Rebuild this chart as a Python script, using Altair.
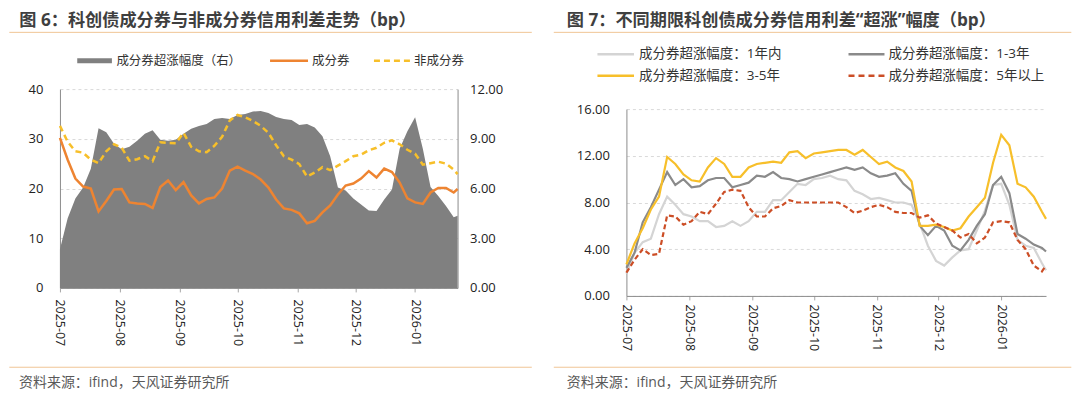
import altair as alt
import pandas as pd

FONT = "Open Sans, Noto Sans CJK SC"

# ---------------- data ----------------
dates = [
    "2025-07-01", "2025-07-05", "2025-07-09", "2025-07-13", "2025-07-17", "2025-07-21",
    "2025-07-25", "2025-07-29", "2025-08-02", "2025-08-06", "2025-08-10", "2025-08-14",
    "2025-08-18", "2025-08-22", "2025-08-26", "2025-08-30", "2025-09-03", "2025-09-07",
    "2025-09-11", "2025-09-15", "2025-09-19", "2025-09-23", "2025-09-27", "2025-10-01",
    "2025-10-05", "2025-10-09", "2025-10-13", "2025-10-17", "2025-10-21", "2025-10-25",
    "2025-10-29", "2025-11-02", "2025-11-06", "2025-11-10", "2025-11-14", "2025-11-18",
    "2025-11-22", "2025-11-26", "2025-11-30", "2025-12-04", "2025-12-08", "2025-12-12",
    "2025-12-16", "2025-12-20", "2025-12-24", "2025-12-28", "2026-01-01", "2026-01-05",
    "2026-01-09", "2026-01-13", "2026-01-17", "2026-01-21", "2026-01-23",
]

# Figure 6
surge_right = [2.34, 4.20, 5.40, 6.06, 7.20, 9.63, 9.39, 8.70, 8.37, 8.52, 8.88, 9.30, 9.51,
               8.94, 8.88, 8.94, 9.30, 9.60, 9.78, 9.90, 10.20, 10.26, 10.20, 10.44, 10.50,
               10.65, 10.68, 10.56, 10.32, 10.20, 10.14, 9.84, 9.90, 9.69, 9.15, 7.95, 6.06,
               5.88, 5.40, 5.04, 4.68, 4.65, 5.34, 5.94, 8.40, 9.45, 10.30, 8.40, 6.09, 5.55,
               4.95, 4.26, 4.35]
constituent = [30.2, 25.8, 22.0, 20.4, 20.0, 15.4, 17.5, 19.8, 19.9, 17.2, 17.0, 16.9, 16.1,
               20.3, 21.6, 19.7, 21.3, 18.6, 17.0, 17.9, 18.2, 20.0, 23.6, 24.4, 23.6, 22.9,
               21.8, 20.2, 17.8, 16.0, 15.7, 15.0, 13.0, 13.5, 15.2, 16.6, 18.8, 20.6, 21.0,
               22.0, 23.5, 22.2, 24.0, 23.3, 21.2, 18.0, 17.2, 16.9, 19.2, 20.1, 20.1, 19.2, 19.9]
non_constituent = [32.6, 29.4, 27.5, 27.2, 25.8, 25.1, 27.5, 28.9, 28.2, 25.6, 25.9, 26.5, 25.5,
                   29.3, 29.2, 29.1, 31.2, 28.4, 27.5, 27.3, 28.6, 30.4, 33.7, 34.8, 34.3, 33.6,
                   32.6, 31.2, 28.7, 26.5, 25.8, 24.9, 22.4, 23.2, 24.3, 23.7, 24.6, 25.5, 26.5,
                   26.8, 27.7, 28.2, 29.2, 29.7, 28.9, 27.8, 27.0, 24.8, 25.1, 25.4, 25.0, 23.8, 22.9]

# Figure 7
surge_1y = [1.9, 3.7, 4.6, 4.9, 7.0, 8.5, 7.8, 7.0, 6.8, 6.4, 6.4, 5.9, 6.0, 6.4, 6.0, 6.4,
            7.2, 7.2, 8.2, 8.2, 8.9, 9.6, 9.5, 10.0, 10.1, 10.3, 10.0, 9.9, 9.0, 8.7, 8.3, 8.4,
            8.2, 8.0, 8.0, 7.8, 6.2, 4.3, 3.0, 2.6, 3.3, 3.9, 4.0, 5.6, 7.3, 9.5, 9.6, 7.8, 4.8,
            4.3, 4.1, 2.8, 2.2]
surge_1_3y = [2.4, 3.7, 6.3, 7.6, 9.1, 10.6, 9.5, 10.0, 9.3, 9.4, 9.9, 10.1, 10.1, 9.3, 9.5,
              9.7, 10.3, 10.2, 10.6, 10.1, 10.0, 9.8, 10.0, 10.2, 10.4, 10.6, 10.8, 11.0, 10.8,
              11.0, 10.5, 10.2, 10.3, 10.5, 9.6, 9.0, 6.0, 5.2, 6.0, 5.6, 4.3, 3.9, 4.8, 6.0,
              7.0, 9.5, 10.2, 8.8, 5.3, 4.9, 4.4, 4.1, 3.8]
surge_3_5y = [2.7, 4.5, 5.8, 7.4, 8.5, 11.9, 11.3, 10.4, 9.9, 9.8, 11.0, 11.8, 11.3, 10.2, 10.2,
              11.0, 11.3, 11.4, 11.5, 11.4, 12.3, 12.4, 11.8, 12.2, 12.3, 12.4, 12.5, 12.5, 12.1,
              12.5, 11.9, 11.3, 11.5, 11.0, 10.7, 9.8, 6.0, 6.0, 6.1, 5.9, 5.6, 5.8, 6.8, 7.6,
              8.4, 11.4, 13.8, 12.9, 9.6, 9.3, 8.5, 7.2, 6.6]
surge_5y_plus = [2.0, 3.1, 4.0, 3.5, 3.6, 6.9, 6.8, 6.1, 6.4, 7.2, 7.0, 7.9, 8.9, 9.1, 9.0, 7.6,
                 6.8, 6.8, 7.5, 7.7, 8.2, 8.0, 8.0, 8.0, 8.0, 8.0, 8.0, 7.6, 7.1, 7.3, 7.6, 7.8,
                 7.6, 7.2, 7.1, 7.1, 6.7, 6.9, 6.2, 5.9, 5.6, 5.0, 5.3, 4.5, 5.0, 6.3, 6.4, 6.3,
                 4.8, 4.0, 2.6, 2.1, 2.6]

month_ticks = [(2025, 7), (2025, 8), (2025, 9), (2025, 10), (2025, 11), (2025, 12), (2026, 1)]

left_title = "图 6：科创债成分券与非成分券信用利差走势（bp）"
right_title = "图 7：不同期限科创债成分券信用利差“超涨”幅度（bp）"
source_text = "资料来源：ifind，天风证券研究所"
left_legend = ["成分券超涨幅度（右）", "成分券", "非成分券"]
right_legend = ["成分券超涨幅度：1年内", "成分券超涨幅度：1-3年", "成分券超涨幅度：3-5年", "成分券超涨幅度：5年以上"]

# ---------------- styles ----------------
C_AREA = "#808080"
C_ORANGE = "#EE8431"
C_YELLOW = "#F7BF2A"
C_LIGHT = "#D4D4D4"
C_DARK = "#8A8A8A"
C_RED = "#CC4E26"
C_RULE = "#F0C595"
C_TITLE = "#3F3F3F"
C_AXIS = "#8C8C8C"
C_LABEL = "#222222"

LW, LH = 398, 199
RW, RH = 420, 207
SPACING = 169

ONE = alt.Data(values=[{"k": 1}])


def txt(s, x, y, size, color, weight="normal"):
    return alt.Chart(ONE).mark_text(
        text=s, font=FONT, fontSize=size, color=color, fontWeight=weight,
        align="left", baseline="middle"
    ).encode(x=alt.value(x), y=alt.value(y))


def hrule(x1, x2, y, color, width, dash=None):
    kw = dict(color=color, strokeWidth=width)
    if dash:
        kw["strokeDash"] = dash
    return alt.Chart(ONE).mark_rule(**kw).encode(
        x=alt.value(x1), x2=alt.value(x2), y=alt.value(y)
    )


def x_enc(pad):
    return alt.X(
        "date:T",
        scale=alt.Scale(type="utc",
                        domain=[alt.DateTime(year=2025, month=7, date=1, utc=True),
                                alt.DateTime(year=2026, month=1, date=23, utc=True)]),
        axis=alt.Axis(
            values=[alt.DateTime(year=y, month=m, date=1, utc=True) for y, m in month_ticks],
            format="%Y-%m", labelAngle=90, labelAlign="left", labelBaseline="middle",
            labelOverlap=False, grid=False, domainColor=C_AXIS, tickColor="#A6A6A6",
            tickSize=4, labelPadding=pad, labelFont=FONT, labelFontSize=12.5,
            labelColor=C_LABEL, title=None,
        ),
        title=None,
    )


# ---------------- Figure 6 ----------------
df6 = pd.DataFrame({"date": dates, "surge": surge_right, "cons": constituent,
                    "noncons": non_constituent})

area = alt.Chart(df6).mark_area(color=C_AREA, opacity=1).encode(
    x=x_enc(7),
    y=alt.Y("surge:Q", scale=alt.Scale(domain=[0, 12], nice=False),
            axis=alt.Axis(orient="right", values=[0, 3, 6, 9, 12], format=".2f", grid=False,
                          ticks=False, domainColor=C_AXIS, labelPadding=12, labelFont=FONT,
                          labelFontSize=13, labelColor=C_LABEL, title=None)),
)

y_left = alt.Y("value:Q", scale=alt.Scale(domain=[0, 40], nice=False),
               axis=alt.Axis(orient="left", values=[0, 10, 20, 30, 40], grid=True,
                             gridDash=[3, 3], gridColor="#D9D9D9", ticks=False,
                             domainColor=C_AXIS, labelPadding=17, labelFont=FONT,
                             labelFontSize=13, labelColor=C_LABEL, title=None))

cons_line = alt.Chart(df6).transform_calculate(value="datum.cons").mark_line(
    color=C_ORANGE, strokeWidth=2.5).encode(x=x_enc(7), y=y_left)
noncons_line = alt.Chart(df6).transform_calculate(value="datum.noncons").mark_line(
    color=C_YELLOW, strokeWidth=2.5, strokeDash=[6, 4]).encode(x=x_enc(7), y=y_left)

lx0 = -50.7
TY = -68.5
left_decos = [
    hrule(lx0, 472.3, -80.3, "#FFFFFF", 1),
    txt(left_title, -40.7, TY, 17.2, C_TITLE, "bold"),
    hrule(lx0, 472.3, -56.8, C_RULE, 1),
    hrule(17.3, 52.0, -28.3, C_AREA, 5),
    txt(left_legend[0], 56.5, -28.3, 12.5, "#333333"),
    hrule(210.3, 248.3, -28.3, C_ORANGE, 2.5),
    txt(left_legend[1], 252.3, -28.3, 12.5, "#333333"),
    hrule(314.3, 351.3, -28.3, C_YELLOW, 2.5, [6, 4]),
    txt(left_legend[2], 354.5, -28.3, 12.5, "#333333"),
    hrule(lx0, 472.3, 278.4, C_RULE, 1),
    txt(source_text, -41.0, 294.5, 14, "#595959"),
]

left = alt.layer(
    area, alt.layer(cons_line, noncons_line), *left_decos
).resolve_scale(y="independent").properties(width=LW, height=LH)

# ---------------- Figure 7 ----------------
df7 = pd.DataFrame({"date": dates, "s1": surge_1y, "s2": surge_1_3y, "s3": surge_3_5y,
                    "s4": surge_5y_plus})

y_right = alt.Y("value:Q", scale=alt.Scale(domain=[0, 16], nice=False, range=[RH, 20]),
                axis=alt.Axis(values=[0, 4, 8, 12, 16], format=".2f", grid=True,
                              gridDash=[3, 3], gridColor="#D9D9D9", ticks=False,
                              domainColor=C_AXIS, labelPadding=17, labelFont=FONT,
                              labelFontSize=13, labelColor=C_LABEL, title=None))


def rline(field, color, dash=None):
    kw = dict(color=color, strokeWidth=2.2)
    if dash:
        kw["strokeDash"] = dash
    return alt.Chart(df7).transform_calculate(value=f"datum.{field}").mark_line(**kw).encode(
        x=x_enc(4), y=y_right)


rx0 = -72.7
rx1 = 445.3
right_decos = [
    txt(right_title, -59.7, TY, 17.2, C_TITLE, "bold"),
    hrule(rx0, rx1, -56.8, C_RULE, 1),
    hrule(-29.0, 7.6, -35.0, C_LIGHT, 2.5),
    txt(right_legend[0], 12.6, -35.0, 13.5, "#333333"),
    hrule(222.3, 258.3, -35.0, C_DARK, 2.5),
    txt(right_legend[1], 262.3, -35.0, 13.5, "#333333"),
    hrule(-29.0, 7.6, -13.3, C_YELLOW, 2.5),
    txt(right_legend[2], 12.6, -13.3, 13.5, "#333333"),
    hrule(222.3, 258.3, -13.3, C_RED, 2.5, [6, 4]),
    txt(right_legend[3], 262.3, -13.3, 13.5, "#333333"),
    hrule(rx0, rx1, 278.4, C_RULE, 1),
    txt(source_text, -59.7, 294.5, 14, "#595959"),
]

right = alt.layer(
    rline("s1", C_LIGHT), rline("s2", C_DARK), rline("s3", C_YELLOW),
    rline("s4", C_RED, [5, 3]), *right_decos
).properties(width=RW, height=RH)

chart = alt.hconcat(left, right, spacing=SPACING, bounds="flush", padding=0,
                    background="white").configure_view(stroke=None)

chart.save("out.html", embed_options={"renderer": "svg", "actions": False})
